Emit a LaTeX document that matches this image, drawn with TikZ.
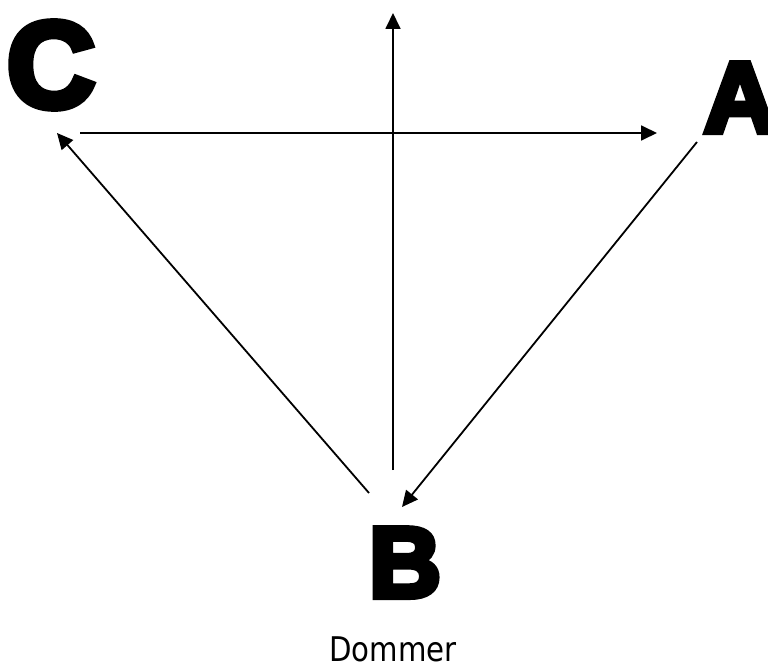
\documentclass[tikz,border=0pt]{standalone}
\usepackage{fontspec}
\usetikzlibrary{arrows.meta}
\newfontfamily\heavyfont{Liberation Sans Bold}[FakeBold=6]
\newfontfamily\handfont{DejaVu Sans}

\begin{document}
\begin{tikzpicture}[x=1pt, y=-1pt,
  letter/.style={inner sep=0pt, anchor=base, font=\heavyfont\fontsize{100}{100}\selectfont},
  link/.style={line width=1.8pt, -{Triangle[length=16pt, width=15pt]}}]
\useasboundingbox (0,0) rectangle (768,666);
\clip (0,0) rectangle (768,666);

% Corner letters
\node[letter, font=\heavyfont\fontsize{122}{122}\selectfont] (c) at (51,107) {C};
\node[letter] (a) at (740,132) {A};
\node[letter] (b) at (405,597) {B};
\node[inner sep=0pt, anchor=base, xscale=0.86, font=\handfont\fontsize{34}{34}\selectfont] (dommer) at (393,661) {Dommer};

% Arrow end points
\coordinate (c-out) at (80,133);
\coordinate (a-in) at (657,133);
\coordinate (a-out) at (697,142);
\coordinate (b-in) at (402,507);
\coordinate (b-out) at (369,493);
\coordinate (c-in) at (57,133);
\coordinate (up-start) at (393,470);
\coordinate (up-end) at (393,13);

% Arrows
\foreach \from/\to in {c-out/a-in, a-out/b-in, b-out/c-in, up-start/up-end}
  \draw[link] (\from) -- (\to);
\end{tikzpicture}
\end{document}
